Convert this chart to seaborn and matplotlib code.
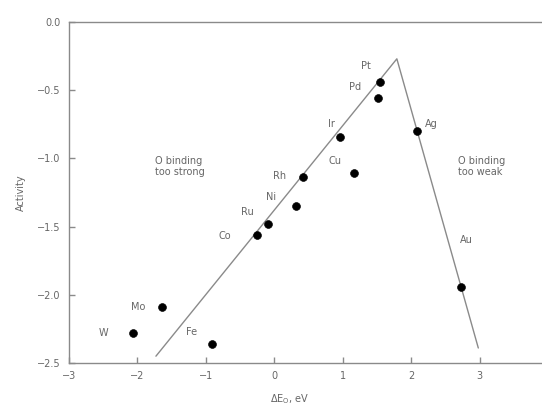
import matplotlib
matplotlib.use("Agg")
import matplotlib.pyplot as plt
import seaborn as sns
import pandas as pd

# metal data
metals = ["W", "Mo", "Fe", "Co", "Ru", "Ni", "Rh", "Cu", "Ir", "Pd", "Pt", "Ag", "Au"]
delta_e = [-2.07, -1.64, -0.91, -0.25, -0.09, 0.32, 0.42, 1.17, 0.96, 1.51, 1.55, 2.08, 2.73]
activity = [-2.28, -2.09, -2.36, -1.56, -1.48, -1.35, -1.14, -1.11, -0.84, -0.56, -0.44, -0.80, -1.94]

# label positions for each metal
label_x = [-2.50, -1.99, -1.21, -0.72, -0.40, -0.05, 0.08, 0.89, 0.83, 1.18, 1.34, 2.29, 2.81]
label_y = [-2.28, -2.09, -2.27, -1.57, -1.39, -1.28, -1.13, -1.02, -0.75, -0.48, -0.32, -0.75, -1.60]

# volcano lines
volcano_x = [-1.73, 1.79, 2.98]
volcano_y = [-2.45, -0.27, -2.39]

xticks = [-3, -2, -1, 0, 1, 2, 3, 4]
xticklabels = ["\u22123", "\u22122", "\u22121", "0", "1", "2", "3", ""]
yticks = [0.0, -0.5, -1.0, -1.5, -2.0, -2.5]

sns.set_style("ticks")
grey = "#8a8a8a"
txt = "#666666"
plt.rcParams["font.family"] = ["DejaVu Sans"]

df = pd.DataFrame({"metal": metals, "dE": delta_e, "act": activity})
line_df = pd.DataFrame({"x": volcano_x, "y": volcano_y})

fig = plt.figure(figsize=(5.42, 4.08), dpi=100)
ax = fig.add_axes([0.1273, 0.1103, 0.884, 0.8358])

sns.lineplot(data=line_df, x="x", y="y", sort=False, color=grey, linewidth=1.0, ax=ax)
sns.scatterplot(data=df, x="dE", y="act", color="black", s=32, edgecolor="black", ax=ax, zorder=3)

for name, lx, ly in zip(metals, label_x, label_y):
    ax.text(lx, ly, name, fontsize=7, color=txt, ha="center", va="center")

ax.text(-1.74, -1.06, "O binding\ntoo strong", fontsize=7, color=txt, ha="left", va="center",
        linespacing=1.1)
ax.text(2.69, -1.06, "O binding\ntoo weak", fontsize=7, color=txt, ha="left", va="center",
        linespacing=1.1)

ax.set_xlim(-3, 4)
ax.set_ylim(-2.5, 0.0)
ax.set_xticks(xticks)
ax.set_yticks(yticks)
ax.set_xticklabels(xticklabels)
ax.set_yticklabels([f"{t:.1f}".replace("-", "\u2212") for t in yticks])
ax.tick_params(direction="in", length=4, width=1, colors=grey, labelcolor=txt, labelsize=7, pad=6)

for side in ["left", "bottom", "top", "right"]:
    ax.spines[side].set_color(grey)
    ax.spines[side].set_linewidth(1.0)

ax.set_xlabel(r"$\Delta\mathrm{E}_{\mathrm{O}}$, eV", fontsize=7, color=txt, labelpad=4)
ax.xaxis.set_label_coords(0.46, -0.085)
ax.set_ylabel("Activity", fontsize=7, color=txt, labelpad=8)

fig.savefig("out.png", dpi=100)
